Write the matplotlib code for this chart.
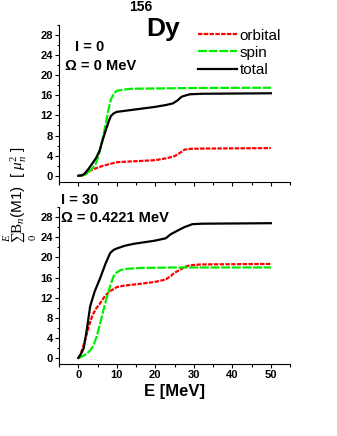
import matplotlib
matplotlib.use("Agg")
import matplotlib.pyplot as plt
from matplotlib.ticker import MultipleLocator

plt.rcParams["font.family"] = ["Liberation Sans", "DejaVu Sans"]
plt.rcParams["mathtext.fontset"] = "custom"
plt.rcParams["mathtext.rm"] = "Liberation Serif"
plt.rcParams["mathtext.it"] = "Liberation Serif:italic"
plt.rcParams["mathtext.bf"] = "Liberation Sans:bold"

# I = 0, Omega = 0 MeV
e_orb_0 = [0, 1.0, 2.0, 3.0, 4.6, 6.5, 8.5, 10, 15, 20, 23, 25, 26.5, 27.6, 29, 31.6, 40, 50]
orb_0 = [0, 0.05, 0.4, 1.0, 1.5, 2.0, 2.4, 2.7, 2.9, 3.1, 3.5, 3.9, 4.6, 5.2, 5.35, 5.4, 5.45, 5.5]
e_spin_0 = [0, 1.0, 2.0, 2.9, 3.8, 4.6, 5.3, 5.9, 6.5, 7.2, 7.8, 8.5, 9.2, 10, 12, 14, 20, 30, 50]
spin_0 = [0, 0.05, 0.3, 0.9, 1.6, 2.5, 4.0, 5.9, 8.0, 10.5, 13.0, 15.2, 16.3, 16.9, 17.15, 17.3, 17.35, 17.45, 17.5]
e_tot_0 = [0, 1.0, 1.6, 2.6, 3.7, 4.6, 5.5, 6.3, 7.2, 8.0, 8.5, 9.2, 10, 12, 15, 20, 23, 24.6, 25.8, 26.8, 28, 29, 32, 50]
tot_0 = [0, 0.1, 0.4, 1.3, 2.5, 3.5, 4.9, 7.0, 9.2, 11.0, 11.9, 12.4, 12.7, 12.9, 13.2, 13.7, 14.1, 14.4, 15.0, 15.7, 16.0, 16.2, 16.3, 16.4]

# I = 30, Omega = 0.4221 MeV
e_orb_30 = [0, 0.3, 1.0, 1.8, 2.7, 3.6, 4.6, 5.7, 7.0, 8.3, 10, 12, 14.4, 19.7, 22.7, 24, 24.9, 26.5, 28.3, 30, 31.8, 40, 50]
orb_30 = [0, 0.3, 1.6, 3.6, 6.2, 8.3, 9.8, 10.9, 12.4, 13.3, 14.1, 14.4, 14.6, 15.1, 15.6, 16.3, 16.9, 17.6, 18.3, 18.5, 18.6, 18.65, 18.7]
e_spin_30 = [0, 1.0, 2.3, 3.2, 4.0, 4.8, 5.7, 6.6, 7.5, 8.4, 9.2, 10, 11, 13, 16.2, 25, 35, 50]
spin_30 = [0, 0.3, 0.9, 1.6, 2.6, 4.3, 6.9, 9.7, 12.3, 14.6, 16.3, 17.0, 17.5, 17.75, 17.9, 18.0, 18.0, 18.0]
e_tot_30 = [0, 0.7, 1.4, 2.2, 3.1, 4.3, 5.7, 7.0, 8.3, 9.2, 10.1, 12, 14.4, 17, 19.7, 22.7, 24, 25.7, 27.5, 29.6, 32, 50]
tot_30 = [0, 0.8, 1.9, 5.5, 10.3, 13.3, 15.9, 18.6, 20.9, 21.5, 21.8, 22.3, 22.7, 23.0, 23.3, 23.8, 24.6, 25.3, 26.0, 26.6, 26.7, 26.8]

panel_text = [("I = 0", "Ω = 0 MeV"), ("I = 30", "Ω = 0.4221 MeV")]
y_ticks = [0, 4, 8, 12, 16, 20, 24, 28]
x_ticks = [0, 10, 20, 30, 40, 50]

fig = plt.figure(figsize=(3.37, 4.36), dpi=100)
ax_top = fig.add_axes([0.175, 0.583, 0.686, 0.360])
ax_bot = fig.add_axes([0.175, 0.165, 0.686, 0.360])

series = [
    (ax_top, e_orb_0, orb_0, e_spin_0, spin_0, e_tot_0, tot_0),
    (ax_bot, e_orb_30, orb_30, e_spin_30, spin_30, e_tot_30, tot_30),
]

for ax, eo, o, es, s, et, t in series:
    ax.plot(eo, o, color="#ff0000", lw=1.6, ls=(0, (2, 0.6)), label="orbital")
    ax.plot(es, s, color="#00ee00", lw=1.6, ls=(0, (4, 0.8)), label="spin")
    ax.plot(et, t, color="black", lw=1.6, label="total")
    ax.set_xlim(-5, 55)
    ax.set_ylim(-1.2, 30)
    ax.set_yticks(y_ticks)
    ax.set_xticks(x_ticks)
    ax.xaxis.set_minor_locator(MultipleLocator(5))
    ax.yaxis.set_minor_locator(MultipleLocator(2))
    ax.spines["top"].set_visible(False)
    ax.spines["right"].set_visible(False)
    ax.tick_params(which="major", direction="out", length=3, width=0.8, labelsize=8, pad=1.5)
    ax.tick_params(which="minor", direction="out", length=1.8, width=0.8)
    for lab in ax.get_yticklabels() + ax.get_xticklabels():
        lab.set_fontweight("bold")

ax_top.tick_params(axis="x", labelbottom=False)

ax_top.text(0.07, 0.86, panel_text[0][0], transform=ax_top.transAxes,
            fontsize=10.5, fontweight="bold", va="center")
ax_top.text(0.026, 0.739, panel_text[0][1], transform=ax_top.transAxes,
            fontsize=10.5, fontweight="bold", va="center")
ax_bot.text(0.01, 1.045, panel_text[1][0], transform=ax_bot.transAxes,
            fontsize=10.5, fontweight="bold", va="center")
ax_bot.text(0.01, 0.93, panel_text[1][1], transform=ax_bot.transAxes,
            fontsize=10.5, fontweight="bold", va="center")

fig.text(0.418, 0.985, "156", fontsize=10, fontweight="bold", ha="center", va="center")
fig.text(0.483, 0.933, "Dy", fontsize=19, fontweight="bold", ha="center", va="center")

ax_top.legend(loc="upper left", bbox_to_anchor=(0.6, 0.975), frameon=False,
              fontsize=11, handlelength=2.6, handletextpad=0.15,
              labelspacing=0.2, borderaxespad=0, borderpad=0)

ax_bot.set_xlabel("E [MeV]", fontsize=12, fontweight="bold", labelpad=3)
fig.text(0.06, 0.553,
         r"$\sum_0^{E}\mathrm{B}_{n}$(M1)  [ $\mu_{n}^{2}$ ]",
         rotation=90, fontsize=11, ha="center", va="center")

fig.savefig("out.png", dpi=100)
